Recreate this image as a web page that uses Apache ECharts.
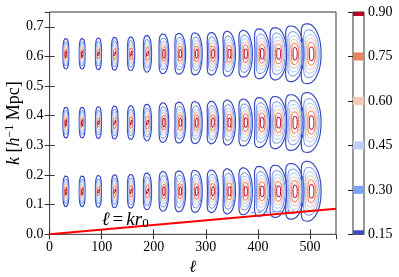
<!DOCTYPE html>
<html><head><meta charset="utf-8">
<script src="https://cdn.jsdelivr.net/npm/echarts@6/dist/echarts.min.js"></script>
<style>html,body{margin:0;padding:0;background:#fff}#c{width:399px;height:277px}</style>
</head><body><div id="c"></div>
<script>
// ---- data ----
const ellCenters = [31.25, 62.5, 93.75, 125, 156.25, 187.5, 218.75, 250, 281.25, 312.5, 343.75, 375, 406.25, 437.5, 468.75, 500];
const kRows = [0.145, 0.377, 0.609];
// half extent of the outermost (0.15) contour, in axis units
const halfWidthEll = [5.6, 5.6, 5.8, 6.4, 6.9, 7.8, 9.2, 10.2, 10.6, 10.8, 11.6, 12.6, 14.0, 15.4, 16.8, 18.2];
const halfHeightK = [0.052, 0.052, 0.054, 0.056, 0.057, 0.062, 0.067, 0.069, 0.071, 0.072, 0.076, 0.079, 0.084, 0.088, 0.094, 0.101];
// crescent bending of each blob (fraction of half width at the top/bottom)
const blobBend = [0, 0, 0.02, 0.06, 0.1, 0.16, 0.24, 0.3, 0.34, 0.36, 0.4, 0.42, 0.44, 0.46, 0.48, 0.5];
const levels = [0.15, 0.30, 0.45, 0.60, 0.75, 0.90];
const levelColors = ['#3b4cc0', '#6a8ef0', '#b2c9f5', '#f4c3ab', '#e5795c', '#bb1030'];
const barColors = ['#3b4cc0', '#7b9ff2', '#bcd1f4', '#f3c8b4', '#e9805f', '#b40426'];
const lineEll = [0, 550];
const lineK = [0, 0.086];
const fragEll = [386, 470];
const fragK = [0.073, 0.079];

// ---- build ----
const serif = '"Liberation Serif","DejaVu Serif",serif';
const series = [];
const p = 2.8;
function sp(c, e) { return Math.sign(c) * Math.pow(Math.abs(c), e); }
const rOuter = Math.sqrt(-2 * Math.log(levels[0]));
kRows.forEach(kc => {
  ellCenters.forEach((lc, i) => {
    levels.forEach((L, j) => {
      const r = Math.sqrt(-2 * Math.log(L)) / rOuter;
      const pts = [];
      const N = 72;
      for (let n = 0; n <= N; n++) {
        const th = 2 * Math.PI * n / N;
        const u = r * sp(Math.cos(th), 2 / p);
        const v = r * sp(Math.sin(th), 2 / p);
        const x = lc + halfWidthEll[i] * (u - blobBend[i] * v * v + blobBend[i] * 0.35);
        const y = kc + halfHeightK[i] * v;
        pts.push([x, y]);
      }
      series.push({
        type: 'line', xAxisIndex: 0, yAxisIndex: 0, data: pts, showSymbol: false, silent: true,
        lineStyle: { color: levelColors[j], width: j === 0 ? 1.2 : 1 }, z: 3 + j
      });
    });
  });
});
series.push({
  type: 'line', xAxisIndex: 0, yAxisIndex: 0, data: [[fragEll[0], fragK[0]], [fragEll[1], fragK[1]]],
  showSymbol: false, silent: true, lineStyle: { color: '#6a8ef0', width: 1, type: [4, 3] }, z: 3
});
series.push({
  type: 'line', xAxisIndex: 0, yAxisIndex: 0, data: [[lineEll[0], lineK[0]], [lineEll[1], lineK[1]]],
  showSymbol: false, silent: true, lineStyle: { color: '#ff0000', width: 2 }, z: 20
});
series.push({
  type: 'custom', xAxisIndex: 2, yAxisIndex: 2, silent: true, z: 2,
  data: levels.map((L, j) => [0, L, j]),
  renderItem: function (params, api) {
    const cs = params.coordSys;
    const y = api.coord([0, api.value(1)])[1];
    const rect = echarts.graphic.clipRectByRect({ x: cs.x, y: y - 4, width: cs.width, height: 8 },
      { x: cs.x, y: cs.y, width: cs.width, height: cs.height });
    if (!rect) return;
    return { type: 'rect', shape: rect, style: { fill: barColors[api.value(2)] } };
  }
});

const tickStyle = { show: true, inside: true, length: 5, lineStyle: { color: '#333', width: 1 } };
const lab = { fontFamily: serif, fontSize: 14, color: '#000' };
const gridBase = { containLabel: false, outerBoundsMode: 'none' };
const option = {
  animation: false,
  backgroundColor: '#fff',
  grid: [
    Object.assign({ left: 49.6, top: 12, width: 286.4, height: 222.3, show: true, borderColor: '#333', borderWidth: 1 }, gridBase),
    Object.assign({ left: 49.6, top: 12, width: 286.4, height: 222.3 }, gridBase),
    Object.assign({ left: 353, top: 12, width: 11, height: 222.3, show: true, borderColor: '#333', borderWidth: 1 }, gridBase)
  ],
  xAxis: [
    { type: 'value', gridIndex: 0, min: 0, max: 550, interval: 100, axisLine: { show: false }, axisTick: tickStyle,
      splitLine: { show: false }, axisLabel: Object.assign({ margin: 6, showMaxLabel: false }, lab),
      name: 'ℓ', nameLocation: 'middle', nameGap: 24,
      nameTextStyle: { fontFamily: serif, fontSize: 17, fontStyle: 'italic', color: '#000' } },
    { type: 'value', gridIndex: 1, position: 'top', min: 0, max: 550, interval: 100, axisLine: { show: false },
      axisTick: tickStyle, splitLine: { show: false }, axisLabel: { show: false } },
    { type: 'value', gridIndex: 2, min: 0, max: 1, show: false }
  ],
  yAxis: [
    { type: 'value', gridIndex: 0, min: 0, max: 0.75, interval: 0.1, axisLine: { show: false }, axisTick: tickStyle,
      splitLine: { show: false },
      axisLabel: Object.assign({ margin: 6, showMaxLabel: false, formatter: v => v.toFixed(1) }, lab),
      name: '{i|k} [{i|h}{sup|−1} Mpc]', nameLocation: 'middle', nameGap: 25, nameRotate: 90, nameMoveOverlap: false,
      nameTextStyle: { fontFamily: serif, fontSize: 18, color: '#000',
        rich: { i: { fontFamily: serif, fontSize: 18, fontStyle: 'italic', color: '#000' },
                sup: { fontFamily: serif, fontSize: 12, color: '#000', padding: [0, 0, 9, 0] } } } },
    { type: 'value', gridIndex: 1, position: 'right', min: 0, max: 0.75, interval: 0.1, axisLine: { show: false },
      axisTick: tickStyle, splitLine: { show: false }, axisLabel: { show: false } },
    { type: 'value', gridIndex: 2, position: 'right', min: 0.15, max: 0.90, interval: 0.15, z: 10,
      axisLine: { show: false }, axisTick: { show: true, inside: true, length: 5, lineStyle: { color: '#222' } },
      splitLine: { show: false },
      axisLabel: Object.assign({ margin: 4, formatter: v => v.toFixed(2) }, lab) }
  ],
  series: series
};
const chart = echarts.init(document.getElementById('c'), null, { renderer: 'canvas' });
chart.setOption(option);
const pos = chart.convertToPixel({ gridIndex: 0 }, [100, 0.047]);
chart.setOption({
  graphic: [{
    type: 'text', x: pos[0], y: pos[1], z: 30,
    style: { text: '{i|ℓ}{n|=}{i|kr}{sub|0}', textAlign: 'left', textVerticalAlign: 'middle',
      rich: { i: { fontFamily: serif, fontSize: 19, fontStyle: 'italic', fill: '#000' },
              n: { fontFamily: serif, fontSize: 19, fill: '#000', padding: [0, 3, 0, 3] },
              sub: { fontFamily: serif, fontSize: 13, fill: '#000', padding: [7, 0, 0, 0] } } }
  }]
});
</script></body></html>
